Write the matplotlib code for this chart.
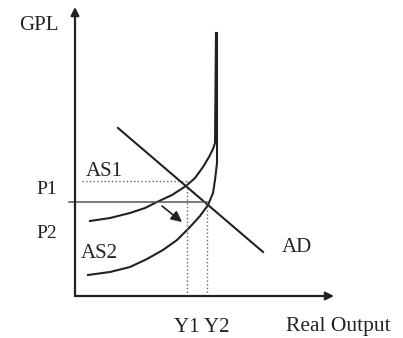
import matplotlib
matplotlib.use('Agg')
import matplotlib.pyplot as plt

# diagram data (origin at axes corner, units roughly pixels)
ad_x = [43, 188]
ad_y = [168, 44]

as1_x = [15, 35, 55, 70, 82, 97, 111, 120, 128, 134, 138, 140, 141]
as1_y = [75, 78, 83, 88, 94, 101, 110, 118, 129, 139, 147, 153, 263]

as2_x = [13, 35, 55, 72, 88, 102, 115, 125, 133, 138, 140, 142, 142]
as2_y = [21, 24, 29, 37, 46, 56, 69, 80, 91, 103, 116, 133, 263]

p1, p2 = 115, 94
y1, y2 = 112, 132

plt.rcParams['font.family'] = ['Liberation Serif', 'DejaVu Serif']

fig = plt.figure(figsize=(4.03, 3.38), dpi=100)
ax = fig.add_axes([0, 0, 1, 1])
ax.set_xlim(-75, 328)
ax.set_ylim(-42, 296)
ax.axis('off')

ink = '#222222'

# axes with arrows
ax.annotate('', xy=(0, 289), xytext=(0, 0),
            arrowprops=dict(arrowstyle='-|>', color=ink, lw=1.6, mutation_scale=12, shrinkA=0, shrinkB=0))
ax.annotate('', xy=(259, 0), xytext=(0, 0),
            arrowprops=dict(arrowstyle='-|>', color=ink, lw=1.6, mutation_scale=12, shrinkA=0, shrinkB=0))

# curves
ax.plot(ad_x, ad_y, color=ink, lw=1.5)
ax.plot(as1_x, as1_y, color=ink, lw=1.5, solid_joinstyle='round')
ax.plot(as2_x, as2_y, color=ink, lw=1.5, solid_joinstyle='round')

# guide lines
ax.plot([7, y1], [p1, p1], color='#666666', lw=1.0, ls=':')
ax.plot([y1, y1], [0, p1], color='#666666', lw=1.0, ls=':')
ax.plot([-6, y2], [p2, p2], color='#555555', lw=1.1)
ax.plot([y2, y2], [0, p2], color='#666666', lw=1.0, ls=':')

# shift arrow
ax.annotate('', xy=(107, 74), xytext=(87, 90),
            arrowprops=dict(arrowstyle='-|>', color=ink, lw=1.2, mutation_scale=16, shrinkA=0, shrinkB=0))

fs = 15
ax.text(-36, 271, 'GPL', fontsize=fs, ha='center', va='center', color=ink)
ax.text(-28, 106, 'P1', fontsize=14, ha='center', va='center', color=ink)
ax.text(-28, 63, 'P2', fontsize=14, ha='center', va='center', color=ink)
ax.text(29, 124, 'AS1', fontsize=fs, ha='center', va='center', color=ink)
ax.text(24, 42, 'AS2', fontsize=fs, ha='center', va='center', color=ink)
ax.text(207, 49, 'AD', fontsize=fs, ha='left', va='center', color=ink)
ax.text(127, -31, 'Y1 Y2', fontsize=fs, ha='center', va='center', color=ink)
ax.text(263, -31, 'Real Output', fontsize=15.5, ha='center', va='center', color=ink)

fig.savefig('out.png', dpi=100)
